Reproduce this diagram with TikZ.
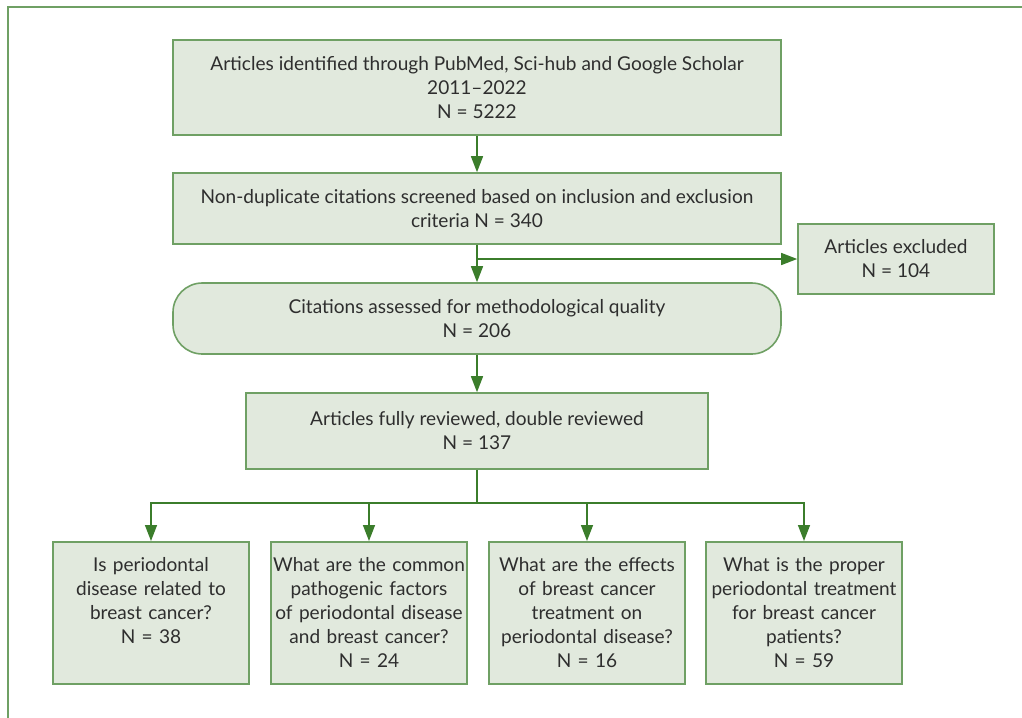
\documentclass[tikz,border=0pt]{standalone}
\usepackage{fontspec}
\setmainfont{Lato}
\usepackage{tikz}
\usetikzlibrary{arrows.meta}
\definecolor{boxfill}{HTML}{E1E9DD}
\definecolor{boxline}{HTML}{6FA064}
\definecolor{arrowgreen}{HTML}{3B7D2B}
\definecolor{inktext}{HTML}{2E2E2E}

\begin{document}
\begin{tikzpicture}[x=0.75pt,y=-0.75pt,
			box/.style={draw=boxline,fill=boxfill,line width=1.2pt,text=inktext,align=center,inner sep=0pt,
				font=\fontsize{14.3}{18}\selectfont},
			wide/.style={box,minimum width=456pt,minimum height=53.25pt},
			qbox/.style={box,text width=147pt,minimum width=147pt,text height=22.5pt,text depth=84pt},
			link/.style={draw=arrowgreen,line width=1.1pt,-{Triangle[length=12pt,width=9pt]}},
			line/.style={draw=arrowgreen,line width=1.1pt},
			frame/.style={draw=boxline,line width=1.5pt}
			]
			\useasboundingbox (0,0) rectangle (1022,718);
			\draw[frame] (8,718) -- (8,7) -- (1022,7);
			
			%% upper chain
			\node[box,minimum width=456pt,minimum height=71.25pt] (ident) at (477,87.5)
				{Articles identified through PubMed, Sci-hub and Google Scholar\\2011--2022\\N = 5222};
			\node[wide] (screen) at (477,208.5)
				{Non-duplicate citations screened based on inclusion and exclusion\\criteria N = 340};
			\node[wide,rounded corners=22pt] (assess) at (477,318.5)
				{Citations assessed for methodological quality\\N = 206};
			\node[box,minimum width=147pt,minimum height=52.5pt] (excl) at (896,259)
				{Articles excluded\\N = 104};
			\node[box,minimum width=346.5pt,minimum height=57pt] (review) at (477,431)
				{Articles fully reviewed, double reviewed\\N = 137};
			
			%% questions
			\node[qbox,anchor=north] (qa) at (151,541) {Is periodontal\\disease related to\\breast cancer?\\N = 38};
			\node[qbox,anchor=north] (qb) at (369,541) {What are the common\\pathogenic factors\\of periodontal disease\\and breast cancer?\\N = 24};
			\node[qbox,anchor=north] (qc) at (587,541) {What are the effects\\of breast cancer\\treatment on\\periodontal disease?\\N = 16};
			\node[qbox,anchor=north] (qd) at (804,541) {What is the proper\\periodontal treatment\\for breast cancer\\patients?\\N = 59};
			
			\coordinate (split) at (screen.south |- excl.west);
			\coordinate (fork) at (477,503);
			
			\draw[link] (ident) -- (screen);
			\draw[link] (screen) -- (assess);
			\draw[link] (split) -- (excl);
			\draw[link] (assess) -- (review);
			\draw[line] (review) -- (fork);
			\foreach \q in {qa,qb,qc,qd}
				\draw[link] (fork) -| (\q.north);
			
\end{tikzpicture}
\end{document}
